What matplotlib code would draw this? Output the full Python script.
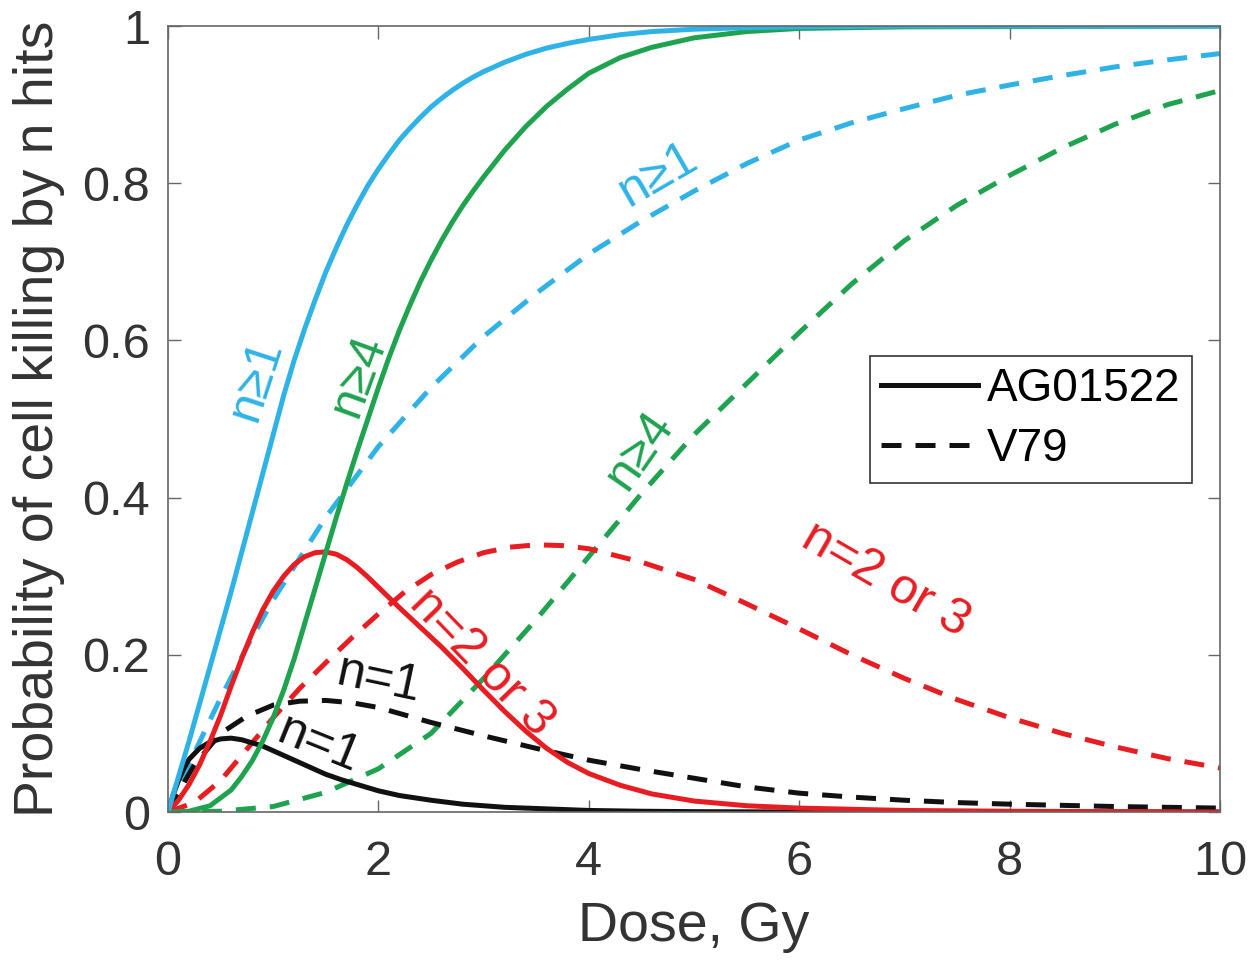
import matplotlib
matplotlib.use("Agg")
import matplotlib.pyplot as plt

plt.rcParams['font.family'] = ['Liberation Sans', 'DejaVu Sans']

# AG01522 (solid lines)
ag_d_ge1 = [0, 0.2, 0.4, 0.6, 0.8, 1.0, 1.1, 1.2, 1.3, 1.4, 1.5, 1.6, 1.7, 1.8, 1.9, 2.0, 2.1, 2.2, 2.3, 2.4,
            2.5, 2.6, 2.7, 2.8, 2.9, 3.0, 3.2, 3.4, 3.6, 3.8, 4.0, 4.3, 4.6, 5.0, 5.5, 6, 7, 8, 10]
ag_v_ge1 = [0, 0.09, 0.185, 0.28, 0.38, 0.48, 0.53, 0.575, 0.615, 0.652, 0.687, 0.718, 0.747, 0.773, 0.797, 0.818,
            0.837, 0.855, 0.870, 0.884, 0.897, 0.908, 0.918, 0.927, 0.935, 0.942, 0.954, 0.964, 0.972, 0.978,
            0.983, 0.989, 0.993, 0.996, 0.998, 0.999, 1, 1, 1]

ag_d_ge4 = [0, 0.2, 0.4, 0.6, 0.7, 0.8, 0.9, 1.0, 1.1, 1.2, 1.3, 1.4, 1.5, 1.6, 1.7, 1.8, 1.9, 2.0, 2.1, 2.2,
            2.3, 2.4, 2.5, 2.6, 2.7, 2.8, 2.9, 3.0, 3.2, 3.4, 3.6, 3.8, 4.0, 4.3, 4.6, 5.0, 5.5, 6, 7, 10]
ag_v_ge4 = [0, 0.001, 0.008, 0.028, 0.045, 0.065, 0.09, 0.12, 0.155, 0.195, 0.24, 0.285, 0.33, 0.375, 0.418,
            0.46, 0.5, 0.54, 0.578, 0.613, 0.645, 0.675, 0.702, 0.727, 0.75, 0.771, 0.79, 0.808, 0.842, 0.872,
            0.898, 0.92, 0.94, 0.96, 0.973, 0.985, 0.993, 0.997, 0.999, 1]

ag_d_23 = [0, 0.1, 0.2, 0.3, 0.4, 0.5, 0.6, 0.7, 0.8, 0.9, 1.0, 1.1, 1.2, 1.3, 1.4, 1.5, 1.6, 1.7, 1.8, 1.9,
           2.0, 2.2, 2.4, 2.6, 2.8, 3.0, 3.2, 3.4, 3.6, 3.8, 4.0, 4.3, 4.6, 5.0, 5.5, 6, 7, 8, 10]
ag_v_23 = [0, 0.015, 0.035, 0.06, 0.09, 0.123, 0.16, 0.195, 0.228, 0.257, 0.281, 0.3, 0.315, 0.325, 0.33, 0.331,
           0.328, 0.321, 0.311, 0.299, 0.286, 0.26, 0.235, 0.21, 0.183, 0.155, 0.128, 0.103, 0.081, 0.063,
           0.049, 0.034, 0.023, 0.014, 0.008, 0.005, 0.002, 0.001, 0]

ag_d_1 = [0, 0.05, 0.1, 0.15, 0.2, 0.3, 0.4, 0.5, 0.6, 0.7, 0.8, 0.9, 1.0, 1.1, 1.2, 1.3, 1.4, 1.5, 1.65, 1.8,
          2.0, 2.2, 2.5, 2.8, 3.2, 3.6, 4, 4.5, 5, 6, 10]
ag_v_1 = [0, 0.022, 0.04, 0.055, 0.067, 0.081, 0.089, 0.093, 0.094, 0.092, 0.088, 0.084, 0.078, 0.072, 0.066,
          0.06, 0.054, 0.048, 0.041, 0.035, 0.027, 0.021, 0.015, 0.01, 0.006, 0.004, 0.002, 0.001, 0.0005, 0, 0]

# V79 (dashed lines)
v79_d_ge1 = [0, 0.25, 0.5, 0.75, 1, 1.5, 2, 2.5, 3, 3.5, 4, 4.5, 5, 5.5, 6, 6.5, 7, 7.5, 8, 8.5, 9, 9.5, 10]
v79_v_ge1 = [0, 0.075, 0.145, 0.21, 0.27, 0.375, 0.465, 0.54, 0.605, 0.66, 0.71, 0.752, 0.79, 0.825, 0.855,
             0.877, 0.895, 0.912, 0.925, 0.937, 0.948, 0.957, 0.965]

v79_d_ge4 = [0, 0.5, 1, 1.5, 2, 2.5, 3, 3.5, 4, 4.5, 5, 5.5, 6, 6.5, 7, 7.5, 8, 8.5, 9, 9.5, 10]
v79_v_ge4 = [0, 0.001, 0.007, 0.025, 0.055, 0.1, 0.17, 0.245, 0.325, 0.405, 0.48, 0.545, 0.61, 0.672, 0.727,
             0.772, 0.81, 0.845, 0.875, 0.9, 0.918]

v79_d_23 = [0, 0.25, 0.5, 0.75, 1.0, 1.25, 1.5, 1.75, 2.0, 2.25, 2.5, 2.75, 3.0, 3.25, 3.5, 3.75, 4.0, 4.5,
            5.0, 5.5, 6.0, 6.5, 7.0, 7.5, 8.0, 8.5, 9.0, 9.5, 10]
v79_v_23 = [0, 0.012, 0.04, 0.08, 0.12, 0.157, 0.19, 0.222, 0.252, 0.28, 0.302, 0.318, 0.33, 0.337, 0.34, 0.339,
            0.335, 0.318, 0.296, 0.265, 0.233, 0.2, 0.17, 0.143, 0.12, 0.1, 0.083, 0.068, 0.056]

v79_d_1 = [0, 0.1, 0.25, 0.5, 0.75, 1.0, 1.25, 1.5, 1.75, 2.0, 2.5, 3.0, 3.5, 4.0, 4.5, 5.0, 5.5, 6.0, 6.5,
           7.0, 7.5, 8, 9, 10]
v79_v_1 = [0, 0.025, 0.06, 0.1, 0.122, 0.136, 0.141, 0.142, 0.139, 0.133, 0.114, 0.097, 0.081, 0.066, 0.054,
           0.043, 0.032, 0.024, 0.019, 0.015, 0.012, 0.01, 0.007, 0.005]

blue = '#2fb3e6'
green = '#1fa34f'
red = '#e81d22'
black = '#111111'

fig = plt.figure(figsize=(12.6, 9.8), dpi=100)
ax = fig.add_axes([0.1333, 0.1714, 0.835, 0.802])

lw = 3.6
dash = (4, 2.8)

ax.plot(v79_d_ge1, v79_v_ge1, color=blue, lw=lw, dashes=dash)
ax.plot(v79_d_ge4, v79_v_ge4, color=green, lw=lw, dashes=dash)
ax.plot(v79_d_23, v79_v_23, color=red, lw=lw, dashes=dash)
ax.plot(v79_d_1, v79_v_1, color=black, lw=lw, dashes=dash)

ax.plot(ag_d_1, ag_v_1, color=black, lw=lw)
ax.plot(ag_d_23, ag_v_23, color=red, lw=lw)
ax.plot(ag_d_ge4, ag_v_ge4, color=green, lw=lw)
ax.plot(ag_d_ge1, ag_v_ge1, color=blue, lw=lw)

# curve labels
fs = 36
ax.text(0.84, 0.55, 'n≥1', color=blue, fontsize=fs, rotation=72, ha='center', va='center')
ax.text(1.81, 0.556, 'n≥4', color=green, fontsize=fs, rotation=70, ha='center', va='center')
ax.text(4.66, 0.81, 'n≥1', color=blue, fontsize=fs, rotation=30, ha='center', va='center')
ax.text(4.49, 0.46, 'n≥4', color=green, fontsize=fs, rotation=55, ha='center', va='center')
ax.text(2.98, 0.19, 'n=2 or 3', color=red, fontsize=fs, rotation=-46, ha='center', va='center')
ax.text(6.82, 0.295, 'n=2 or 3', color=red, fontsize=fs, rotation=-30, ha='center', va='center')
ax.text(2.0, 0.168, 'n=1', color=black, fontsize=fs, rotation=-12, ha='center', va='center')
ax.text(1.43, 0.085, 'n=1', color=black, fontsize=fs, rotation=-22, ha='center', va='center')

# legend handles
ax.plot([], [], color=black, lw=lw, label='AG01522')
ax.plot([], [], color=black, lw=lw, dashes=dash, label='V79')
handles, labels = ax.get_legend_handles_labels()
leg = ax.legend(handles, labels, loc='center right', bbox_to_anchor=(0.973, 0.50), borderaxespad=0,
                fontsize=33, handlelength=2.1, handletextpad=0.2, borderpad=0.25,
                labelspacing=0.35, fancybox=False, framealpha=1)
leg.get_frame().set_edgecolor('#333333')
leg.get_frame().set_linewidth(1.2)

ax.set_xlim(0, 10)
ax.set_ylim(0, 1)
ax.set_xticks([0, 2, 4, 6, 8, 10])
ax.set_yticks([0, 0.2, 0.4, 0.6, 0.8, 1])
ax.set_yticklabels(['0', '0.2', '0.4', '0.6', '0.8', '1'])
ax.tick_params(direction='in', length=9, width=1, top=True, right=True,
               labelsize=35, labelcolor='#333333', color='#666666')
ax.tick_params(axis='x', pad=20)
ax.tick_params(axis='y', pad=13)
for s in ax.spines.values():
    s.set_color('#666666')
    s.set_linewidth(1.2)

ax.set_xlabel('Dose, Gy', fontsize=40, color='#333333')
ax.set_ylabel('Probability of cell killing by n hits', fontsize=40, color='#333333')
ax.xaxis.set_label_coords(0.5, -0.113)
ax.yaxis.set_label_coords(-0.098, 0.5)

fig.savefig('out.png', dpi=100)
